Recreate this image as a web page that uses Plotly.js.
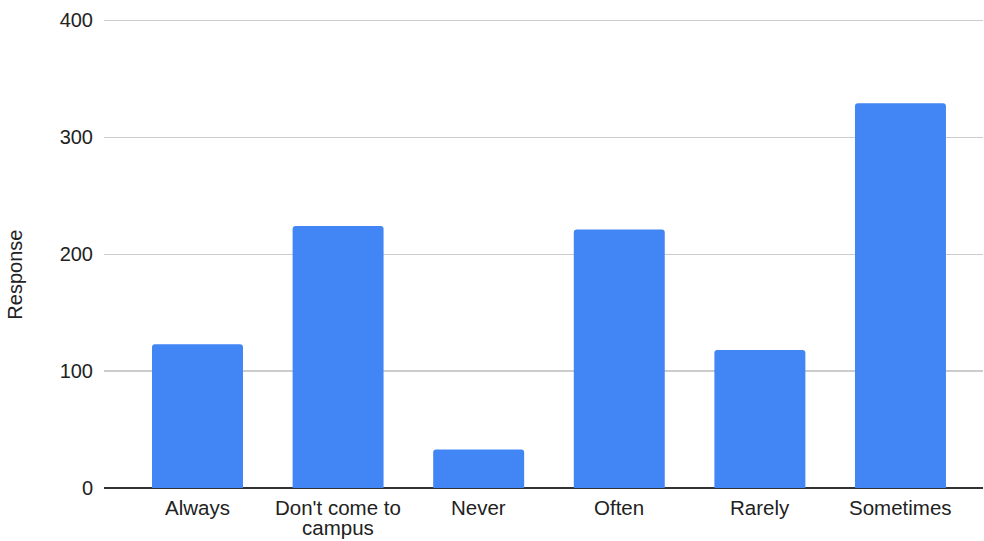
<!DOCTYPE html>
<html>
<head>
<meta charset="utf-8">
<script src="https://cdn.plot.ly/plotly-3.0.1.min.js"></script>
<style>
  html, body { margin: 0; padding: 0; background: #ffffff; }
  #chart { width: 984px; height: 541px; }
</style>
</head>
<body>
<div id="chart"></div>
<script>
// How often respondents come to campus
const categories = ["Always", "Don't come to campus", "Never", "Often", "Rarely", "Sometimes"];
// Category labels, one entry per line as they wrap under the bars
const tickLabels = [["Always"], ["Don't come to", "campus"], ["Never"], ["Often"], ["Rarely"], ["Sometimes"]];
const responses = [123, 224, 33, 221, 118, 329];
const yTicks = [0, 100, 200, 300, 400];
const yTitle = "Response";

const FONT = "Liberation Sans, Arial, sans-serif";
const TEXT = "#222222";

// Plot box in pixels; the value range runs a little past 400 so the top gridline shows
const W = 984, H = 541;
const Y_MAX = 402;
const M = { l: 104, r: 1, t: 17.66, b: 53 };
const plotH = H - M.t - M.b;
const pxToPaperY = px => (H - M.b - px) / plotH;
const pxToPaperX = px => (px - M.l) / (W - M.l - M.r);

const trace = {
  type: "bar",
  x: categories,
  y: responses,
  width: 0.647,
  marker: { color: "#4285f4", line: { width: 0 } },
  hoverinfo: "x+y"
};

// Category labels drawn below the axis, with a tight line spacing for wrapped text
const LABEL_FIRST_LINE = 508;
const LABEL_LINE_GAP = 20;
const annotations = [];
categories.forEach((cat, i) => {
  tickLabels[i].forEach((line, j) => {
    annotations.push({
      xref: "x", yref: "paper",
      x: cat,
      y: pxToPaperY(LABEL_FIRST_LINE + j * LABEL_LINE_GAP),
      text: line,
      showarrow: false,
      xanchor: "center", yanchor: "middle",
      font: { family: FONT, size: 20.5, color: TEXT }
    });
  });
});

// Y-axis title
annotations.push({
  xref: "paper", yref: "paper",
  x: pxToPaperX(15.5), y: pxToPaperY(275),
  text: yTitle,
  textangle: -90,
  showarrow: false,
  xanchor: "center", yanchor: "middle",
  font: { family: FONT, size: 20, color: TEXT }
});

const layout = {
  width: W,
  height: H,
  margin: M,
  paper_bgcolor: "#ffffff",
  plot_bgcolor: "#ffffff",
  showlegend: false,
  barcornerradius: 3,
  font: { family: FONT, size: 20, color: TEXT },
  xaxis: {
    type: "category",
    categoryorder: "array",
    categoryarray: categories,
    range: [-0.665, 5.587],
    showgrid: false,
    showline: false,
    zeroline: false,
    ticks: "",
    showticklabels: false
  },
  yaxis: {
    range: [0, Y_MAX],
    tickvals: yTicks,
    ticks: "",
    showgrid: true,
    gridcolor: "#cccccc",
    gridwidth: 1.3,
    zeroline: true,
    zerolinecolor: "#333333",
    zerolinewidth: 2,
    showline: false,
    tickfont: { family: FONT, size: 20, color: TEXT },
    ticklabelstandoff: 10
  },
  annotations: annotations
};

Plotly.newPlot("chart", [trace], layout, { displayModeBar: false, staticPlot: true });
</script>
</body>
</html>
